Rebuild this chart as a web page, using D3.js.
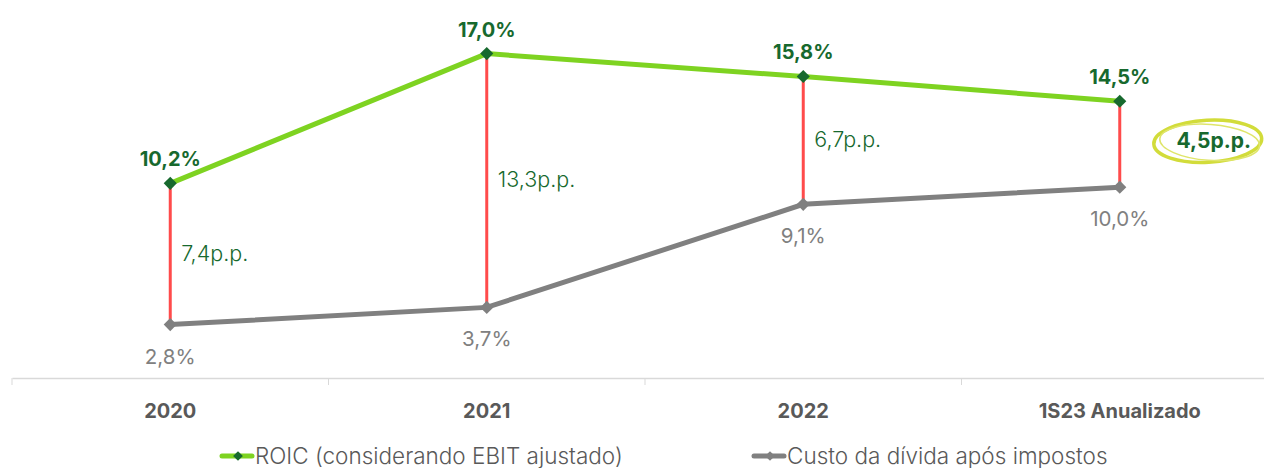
<!DOCTYPE html>
<html>
<head>
<meta charset="utf-8">
<script src="https://cdn.jsdelivr.net/npm/d3@7"></script>
<style>
  html, body { margin: 0; padding: 0; background: #fff; }
  svg { display: block; font-family: Inter, "Noto Sans", sans-serif; }
</style>
</head>
<body>
<div id="chart"></div>
<script>
const categories = ["2020", "2021", "2022", "1S23 Anualizado"];
const roic = [10.2, 17.0, 15.8, 14.5];
const custo = [2.8, 3.7, 9.1, 10.0];
const spreads = ["7,4p.p.", "13,3p.p.", "6,7p.p.", "4,5p.p."];
const seriesNames = ["ROIC (considerando EBIT ajustado)", "Custo da dívida após impostos"];

(() => {
    const width = 1264, height = 468;
    const darkGreen = "#17692e", lime = "#7ed321", grey = "#808080", red = "#ff4b4b";

    const svg = d3.select("#chart").append("svg")
        .attr("width", width)
        .attr("height", height);

    const x = d3.scaleBand()
        .domain(categories)
        .range([12, 1278]);

    const y = d3.scaleLinear()
        .domain([0, 17])
        .range([378, 53.6]);

    const cx = d => x(d) + x.bandwidth() / 2;
    const fmt = v => v.toFixed(1).replace(".", ",") + "%";

    // axis
    const axis = svg.append("g")
        .attr("transform", "translate(0,378)")
        .call(d3.axisBottom(x).tickSize(0).tickFormat(""));
    axis.select(".domain").attr("stroke", "#d9d9d9").attr("stroke-width", 1.5);
    const edges = categories.map(c => x(c));
    svg.selectAll(".edge")
        .data(edges)
        .enter().append("line")
        .attr("x1", d => d).attr("x2", d => d)
        .attr("y1", 378).attr("y2", 385)
        .attr("stroke", "#d9d9d9");

    svg.selectAll(".cat")
        .data(categories)
        .enter().append("text")
        .attr("x", d => cx(d))
        .attr("y", 418)
        .attr("text-anchor", "middle")
        .attr("fill", "#595959")
        .style("font-size", "20px")
        .style("font-weight", "700")
        .text(d => d);

    // spread lines
    categories.forEach((c, i) => {
        svg.append("line")
            .attr("x1", cx(c)).attr("x2", cx(c))
            .attr("y1", y(roic[i])).attr("y2", y(custo[i]))
            .attr("stroke", red)
            .attr("stroke-width", 3);
    });

    const line = d3.line()
        .x((d, i) => cx(categories[i]))
        .y(d => y(d));

    svg.append("path").datum(custo)
        .attr("fill", "none").attr("stroke", grey).attr("stroke-width", 5)
        .attr("d", line);
    svg.append("path").datum(roic)
        .attr("fill", "none").attr("stroke", lime).attr("stroke-width", 5)
        .attr("d", line);

    const diamond = d3.symbol().type(d3.symbolDiamond2).size(110);

    svg.selectAll(".dg")
        .data(custo)
        .enter().append("path")
        .attr("d", diamond)
        .attr("transform", (d, i) => `translate(${cx(categories[i])},${y(d)})`)
        .attr("fill", grey);
    svg.selectAll(".dr")
        .data(roic)
        .enter().append("path")
        .attr("d", diamond)
        .attr("transform", (d, i) => `translate(${cx(categories[i])},${y(d)})`)
        .attr("fill", darkGreen);

    // value labels
    svg.selectAll(".lr")
        .data(roic)
        .enter().append("text")
        .attr("x", (d, i) => cx(categories[i]))
        .attr("y", d => y(d) - 17)
        .attr("text-anchor", "middle")
        .attr("fill", darkGreen)
        .style("font-size", "20px")
        .style("font-weight", "700")
        .text(d => fmt(d));

    svg.selectAll(".lg")
        .data(custo)
        .enter().append("text")
        .attr("x", (d, i) => cx(categories[i]))
        .attr("y", d => y(d) + 39)
        .attr("text-anchor", "middle")
        .attr("fill", grey)
        .style("font-size", "20.5px")
        .text(d => fmt(d));

    // spread labels
    spreads.forEach((s, i) => {
        const mid = (y(roic[i]) + y(custo[i])) / 2;
        const last = i === spreads.length - 1;
        if (last) {
            const ex = cx(categories[i]) + 88, ey = mid - 3;
            svg.append("ellipse")
                .attr("cx", ex).attr("cy", ey)
                .attr("rx", 54).attr("ry", 21)
                .attr("fill", "none")
                .attr("stroke", "#d2dc3a")
                .attr("stroke-width", 3.5)
                .attr("transform", `rotate(-3,${ex},${ey})`);
            svg.append("ellipse")
                .attr("cx", ex + 2).attr("cy", ey + 1)
                .attr("rx", 50).attr("ry", 18)
                .attr("fill", "none")
                .attr("stroke", "#dfe56a")
                .attr("stroke-width", 1.5)
                .attr("transform", `rotate(4,${ex},${ey})`);
            svg.append("text")
                .attr("x", ex + 6)
                .attr("y", ey + 7)
                .attr("text-anchor", "middle")
                .attr("fill", darkGreen)
                .style("font-size", "21px")
                .style("font-weight", "700")
                .text(s);
        } else {
            svg.append("text")
                .attr("x", cx(categories[i]) + 11)
                .attr("y", mid + 7)
                .attr("fill", darkGreen)
                .style("font-size", "21.5px")
                .style("font-weight", "300")
                .text(s);
        }
    });

    // legend
    const legendItems = [
        { name: seriesNames[0], line: lime, mark: darkGreen, x: 222 },
        { name: seriesNames[1], line: grey, mark: grey, x: 754 }
    ];
    legendItems.forEach(l => {
        const g = svg.append("g").attr("transform", `translate(${l.x},456)`);
        g.append("line")
            .attr("x1", 0).attr("x2", 30)
            .attr("stroke", l.line).attr("stroke-width", 5)
            .attr("stroke-linecap", "round");
        g.append("path")
            .attr("d", d3.symbol().type(d3.symbolDiamond2).size(60))
            .attr("transform", "translate(16,0)")
            .attr("fill", l.mark);
        g.append("text")
            .attr("x", 33)
            .attr("y", 8)
            .attr("fill", "#595959")
            .style("font-size", "22.5px")
            .style("font-weight", "300")
            .text(l.name);
    });
})();
</script>
</body>
</html>
